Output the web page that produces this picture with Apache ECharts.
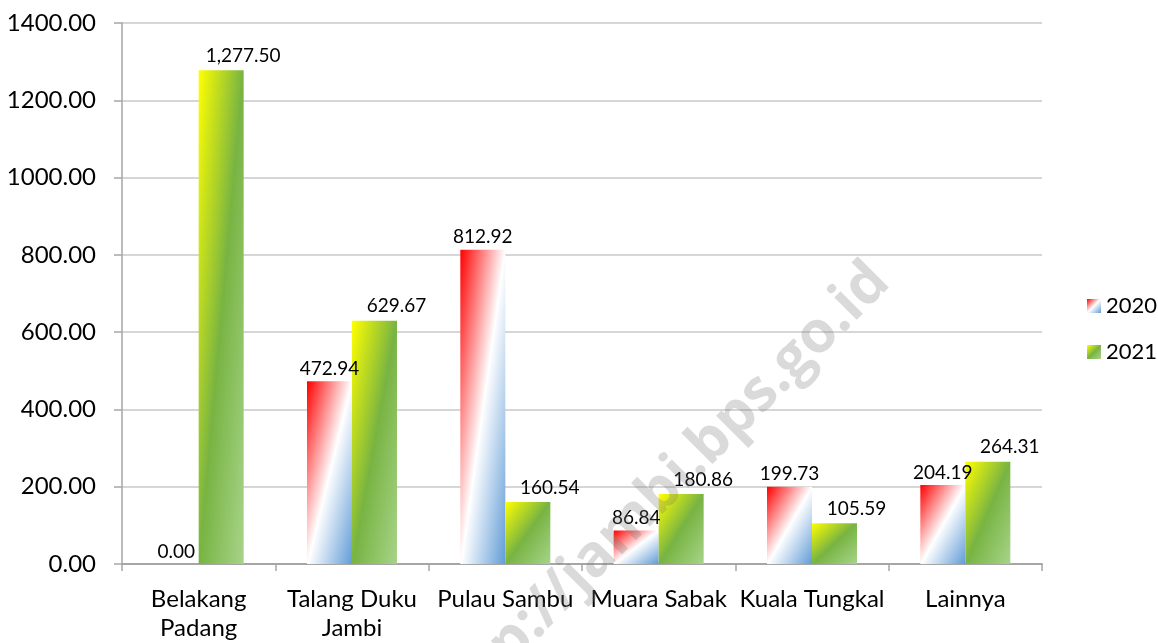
<!DOCTYPE html>
<html>
<head>
<meta charset="utf-8">
<script src="https://cdn.jsdelivr.net/npm/echarts@6/dist/echarts.min.js"></script>
<style>
  html, body { margin: 0; padding: 0; background: #fff; }
  #chart { width: 1158px; height: 643px; }
</style>
</head>
<body>
<div id="chart"></div>
<script>
  // data
  var categories = ['Belakang\nPadang', 'Talang Duku\nJambi', 'Pulau Sambu', 'Muara Sabak', 'Kuala Tungkal', 'Lainnya'];
  var seriesNames = ['2020', '2021'];
  var values2020 = [0.00, 472.94, 812.92, 86.84, 199.73, 204.19];
  var values2021 = [1277.50, 629.67, 160.54, 180.86, 105.59, 264.31];
  var yTicks = [0, 200, 400, 600, 800, 1000, 1200, 1400];

  var FONT = 'Lato';
  var gridTop = 23, gridBottom = 75;
  var plotH = 643 - gridTop - gridBottom;
  var barW = 45;
  var yMax = yTicks[yTicks.length - 1];

  var stops2020 = [
    {offset: 0, color: '#ff0000'},
    {offset: 0.5, color: '#ffffff'},
    {offset: 1, color: '#5f9bd6'}
  ];
  var stops2021 = [
    {offset: 0, color: '#ffff00'},
    {offset: 0.5, color: '#78b443'},
    {offset: 1, color: '#a8d48a'}
  ];

  // diagonal gradient like excel: middle stop lies on the anti-diagonal of the bar
  function diagGradient(value, stops) {
    var h = Math.max(value / yMax * plotH, 0.001);
    var w = barW;
    var d = h * h + w * w;
    return new echarts.graphic.LinearGradient(0, 0, 2 * h * h / d, 2 * w * w / d, stops);
  }

  function buildData(values, stops) {
    return values.map(function (v) {
      return {value: v, itemStyle: {color: diagGradient(v, stops)}};
    });
  }

  function fmt(v) {
    return Number(v).toLocaleString('en-US', {minimumFractionDigits: 2, maximumFractionDigits: 2});
  }

  var chart = echarts.init(document.getElementById('chart'));
  var option = {
    animation: false,
    backgroundColor: '#ffffff',
    textStyle: {fontFamily: FONT},
    grid: {left: 122, right: 116, top: gridTop, bottom: gridBottom},
    legend: {
      orient: 'vertical',
      left: 1082,
      top: 290,
      itemWidth: 14,
      itemHeight: 14,
      itemGap: 24,
      icon: 'rect',
      data: seriesNames,
      textStyle: {fontFamily: FONT, fontSize: 22, color: '#000'}
    },
    xAxis: {
      type: 'category',
      data: categories,
      axisLine: {lineStyle: {color: '#a6a6a6', width: 2}},
      axisTick: {show: true, length: 7, lineStyle: {color: '#a6a6a6', width: 1.5}},
      axisLabel: {
        fontFamily: FONT,
        fontSize: 24,
        color: '#000',
        margin: 21,
        lineHeight: 29,
        interval: 0
      }
    },
    yAxis: {
      type: 'value',
      min: yTicks[0],
      max: yMax,
      interval: 200,
      axisLine: {show: true, lineStyle: {color: '#a6a6a6', width: 1.5}},
      axisTick: {show: true, length: 8, lineStyle: {color: '#a6a6a6', width: 1.5}},
      splitLine: {lineStyle: {color: '#c8c8c8', width: 1.5}},
      axisLabel: {
        fontFamily: FONT,
        fontSize: 24,
        color: '#000',
        margin: 26,
        formatter: function (v) { return v.toFixed(2); }
      }
    },
    series: [
      {
        name: seriesNames[0],
        type: 'bar',
        barWidth: barW,
        barGap: '0%',
        itemStyle: {color: new echarts.graphic.LinearGradient(0, 0, 1, 1, stops2020)},
        label: {
          show: true,
          position: 'top',
          distance: 3,
          fontFamily: FONT,
          fontSize: 19,
          color: '#000',
          formatter: function (p) { return fmt(p.value); }
        },
        data: buildData(values2020, stops2020)
      },
      {
        name: seriesNames[1],
        type: 'bar',
        barWidth: barW,
        barGap: '0%',
        itemStyle: {color: new echarts.graphic.LinearGradient(0, 0, 1, 1, stops2021)},
        label: {
          show: true,
          position: 'top',
          distance: 5,
          offset: [22, 0],
          fontFamily: FONT,
          fontSize: 19,
          color: '#000',
          formatter: function (p) { return fmt(p.value); }
        },
        data: buildData(values2021, stops2021)
      }
    ],
    graphic: [
      {
        type: 'text',
        x: 658,
        y: 495,
        rotation: Math.PI / 4,
        z: 100,
        silent: true,
        style: {
          text: 'http://jambi.bps.go.id',
          fontFamily: 'Open Sans',
          fontWeight: 'bold',
          fontSize: 58,
          fill: 'rgba(120,120,120,0.27)',
          align: 'center',
          verticalAlign: 'middle'
        }
      }
    ]
  };
  chart.setOption(option);
</script>
</body>
</html>
